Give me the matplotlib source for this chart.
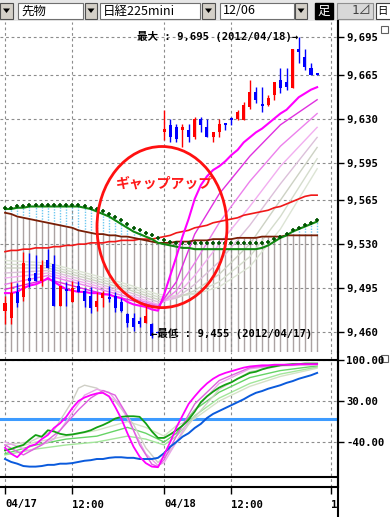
import matplotlib.pyplot as plt
from matplotlib.patches import Rectangle, Ellipse, Polygon

plt.rcParams['font.family'] = ['DejaVu Sans Mono', 'Noto Sans CJK JP']

# axes labels
price_ticks = [9695, 9665, 9630, 9595, 9565, 9530, 9495, 9460]
osc_ticks = [100, 30, -40]
time_pos = [0, 11, 26, 37, 53.3]
time_labels = ['04/17', '12:00', '04/18', '12:00', '1']

# candles, 04/17 then 04/18
opens = [9477, 9471, 9492, 9488, 9503, 9507, 9501, 9517, 9514, 9481, 9494, 9484, 9497,
         9493, 9489, 9480, 9487, 9488, 9489, 9484, 9474, 9471, 9469, 9467, 9466, 9460,
         9619, 9625, 9623, 9621, 9621, 9615, 9630, 9623, 9615, 9619, 9626, 9630, 9630,
         9629, 9639, 9651, 9641, 9641, 9649, 9661, 9659, 9654, 9685, 9679, 9670, 9666]
closes = [9483, 9491, 9483, 9515, 9501, 9501, 9513, 9511, 9481, 9497, 9493, 9495, 9492,
          9485, 9479, 9485, 9491, 9486, 9479, 9477, 9467, 9464, 9466, 9473, 9457, 9459,
          9622, 9615, 9614, 9623, 9615, 9630, 9625, 9615, 9619, 9626, 9625, 9629, 9635,
          9641, 9651, 9645, 9640, 9646, 9659, 9654, 9655, 9685, 9683, 9671, 9665, 9665]
highs = [9489, 9500, 9499, 9524, 9523, 9521, 9517, 9526, 9521, 9497, 9500, 9501, 9501,
         9495, 9496, 9492, 9493, 9497, 9492, 9487, 9475, 9475, 9472, 9481, 9467, 9461,
         9637, 9630, 9626, 9626, 9626, 9631, 9631, 9630, 9619, 9630, 9626, 9631, 9637,
         9643, 9661, 9655, 9655, 9649, 9659, 9670, 9670, 9685, 9695, 9685, 9674, 9666]
lows = [9466, 9466, 9480, 9485, 9496, 9501, 9497, 9511, 9481, 9481, 9481, 9484, 9492,
        9480, 9475, 9477, 9480, 9484, 9476, 9476, 9464, 9461, 9464, 9467, 9455, 9459,
        9613, 9611, 9611, 9607, 9611, 9614, 9619, 9615, 9611, 9615, 9621, 9625, 9629,
        9629, 9638, 9642, 9635, 9640, 9645, 9650, 9653, 9654, 9674, 9669, 9665, 9665]

ma_fast = [9491, 9491, 9492, 9495, 9497, 9498, 9500, 9503, 9500, 9497, 9494, 9493, 9492,
           9492, 9491, 9491, 9490, 9490, 9488, 9487, 9484, 9482, 9481, 9480, 9478, 9477,
           9490, 9505, 9520, 9536, 9550, 9566, 9577, 9584, 9589, 9592, 9596, 9601, 9605,
           9611, 9615, 9619, 9622, 9626, 9630, 9634, 9637, 9642, 9647, 9650, 9653, 9655]
ma_long = [9524, 9525, 9525, 9526, 9526, 9527, 9527, 9527, 9528, 9528, 9529, 9529, 9530,
           9530, 9531, 9531, 9531, 9532, 9532, 9533, 9533, 9533, 9534, 9534, 9534, 9535,
           9536, 9537, 9539, 9540, 9541, 9543, 9544, 9545, 9547, 9548, 9549, 9550, 9551,
           9553, 9554, 9555, 9556, 9557, 9559, 9560, 9562, 9564, 9566, 9568, 9569, 9569]
base_line = [9555, 9554, 9552, 9551, 9550, 9549, 9548, 9547, 9546, 9545, 9544, 9543, 9541,
             9540, 9539, 9538, 9538, 9537, 9537, 9536, 9536, 9535, 9534, 9533, 9532, 9531,
             9531, 9531, 9532, 9532, 9532, 9533, 9533, 9533, 9534, 9534, 9534, 9534, 9535,
             9535, 9535, 9535, 9536, 9536, 9536, 9536, 9537, 9537, 9537, 9537, 9537, 9537]
span_line = [9558, 9558, 9559, 9559, 9560, 9560, 9560, 9560, 9560, 9560, 9560, 9560, 9560,
             9559, 9558, 9556, 9554, 9552, 9549, 9546, 9543, 9540, 9538, 9536, 9534, 9531,
             9530, 9529, 9528, 9527, 9527, 9526, 9526, 9526, 9526, 9526, 9526, 9526, 9526,
             9526, 9526, 9526, 9527, 9529, 9532, 9535, 9537, 9540, 9542, 9544, 9546, 9548]
span_dots = [9559, 9559, 9560, 9560, 9561, 9561, 9561, 9561, 9561, 9561, 9561, 9561, 9561,
             9560, 9559, 9558, 9556, 9554, 9552, 9549, 9546, 9543, 9541, 9539, 9537, 9535,
             9533, 9532, 9531, 9531, 9531, 9531, 9531, 9531, 9531, 9531, 9531, 9531, 9531,
             9531, 9531, 9531, 9531, 9532, 9534, 9536, 9538, 9541, 9543, 9545, 9547, 9549]

ribbon_idx = [0, 7, 14, 20, 25, 28, 31, 35, 40, 45, 51]
rib1 = [9494, 9502, 9493, 9486, 9480, 9500, 9538, 9570, 9600, 9625, 9645]
rib2 = [9498, 9505, 9496, 9488, 9481, 9493, 9515, 9547, 9580, 9608, 9634]
rib3 = [9503, 9507, 9498, 9490, 9482, 9489, 9505, 9530, 9560, 9592, 9623]
rib4 = [9507, 9509, 9500, 9492, 9484, 9487, 9498, 9516, 9545, 9578, 9615]
rib5 = [9511, 9511, 9502, 9494, 9486, 9487, 9493, 9506, 9530, 9565, 9607]
rib6 = [9514, 9513, 9504, 9496, 9488, 9488, 9491, 9500, 9520, 9552, 9598]
rib7 = [9517, 9515, 9506, 9498, 9490, 9489, 9490, 9496, 9512, 9542, 9590]

# oscillator panel
osc_blue = [-69, -74, -77, -81, -82, -82, -81, -79, -79, -77, -77, -76, -74, -72, -71, -69,
            -69, -67, -66, -66, -67, -67, -69, -69, -69, -67, -59, -48, -40, -31, -25, -16,
            -9, 1, 8, 13, 18, 23, 28, 33, 39, 44, 47, 51, 54, 57, 61, 64, 68, 71, 74, 78]
osc_green = [-54, -52, -48, -45, -36, -28, -31, -20, -22, -26, -28, -27, -25, -23, -20, -15,
             -11, -6, 0, 3, 4, 4, 3, -8, -22, -33, -33, -27, -20, -12, -2, 12, 28, 38, 46,
             53, 58, 62, 68, 73, 78, 80, 84, 87, 89, 91, 92, 93, 93, 94, 94, 94]
osc_mag = [-50, -60, -66, -55, -47, -44, -35, -28, -16, -8, 3, 18, 30, 36, 40, 43, 44, 38,
           20, 0, -25, -48, -65, -76, -82, -83, -62, -40, -15, 5, 25, 38, 50, 60, 68, 74,
           78, 81, 84, 87, 89, 90, 91, 91, 92, 92, 92, 92, 93, 93, 93, 93]
o_idx1 = [0, 3, 6, 9, 12, 14, 16, 18, 20, 22, 24, 25, 26, 28, 31, 35, 40, 45, 51]
o_pink1 = [-45, -62, -45, -20, 15, 35, 48, 40, 5, -45, -78, -82, -70, -30, 25, 65, 87, 92, 93]
o_idx2 = [0, 4, 8, 11, 13, 15, 17, 19, 21, 23, 25, 26, 28, 31, 35, 40, 45, 51]
o_pink2 = [-40, -55, -35, 10, 40, 50, 45, 20, -20, -60, -80, -75, -40, 15, 60, 85, 91, 92]
o_idx3 = [0, 4, 8, 11, 12, 13, 15, 18, 21, 23, 25, 27, 30, 35, 40, 45, 51]
o_gray = [-45, -40, -20, 30, 52, 57, 52, 30, -10, -50, -75, -55, -10, 50, 80, 90, 92]
o_idx4 = [0, 5, 10, 15, 20, 23, 26, 28, 31, 35, 40, 45, 51]
o_lg1 = [-60, -45, -35, -30, -15, -25, -40, -25, 15, 45, 70, 82, 90]
o_lg2 = [-62, -52, -45, -40, -30, -35, -45, -30, 5, 35, 60, 76, 88]
o_lg3 = [-55, -40, -30, -20, -5, -15, -30, -12, 0, 30, 55, 72, 86]

W, H = 390, 517


def frac(x0, y0, x1, y1):
    return [x0 / W, 1 - y1 / H, (x1 - x0) / W, (y1 - y0) / H]


fig = plt.figure(figsize=(3.9, 5.17), dpi=100, facecolor='white')
base = fig.add_axes([0, 0, 1, 1])
base.set_xlim(0, W)
base.set_ylim(H, 0)
base.axis('off')

# toolbar
base.add_patch(Rectangle((0, 0), W, 21, fc='#E6E6E6', ec='none'))


def button(x, w):
    base.add_patch(Rectangle((x, 2.5), w, 16, fc='#D4D0C8', ec='#505050', lw=0.8))
    cx = x + w / 2
    base.add_patch(Polygon([(cx - 3.5, 8.5), (cx + 3.5, 8.5), (cx, 13)], fc='black', ec='none'))


def field(x, w, txt):
    base.add_patch(Rectangle((x, 2.5), w, 16, fc='white', ec='#707070', lw=0.8))
    base.text(x + 3, 11, txt, fontsize=9, va='center', ha='left',
              family=['Noto Sans CJK JP'], color='black')


button(0, 13)
field(18, 65, '先物')
button(85, 12)
field(100, 100, '日経225mini')
button(202, 13)
field(220, 74, '12/06')
button(295, 12)
base.add_patch(Rectangle((315, 2.5), 18, 16, fc='black', ec='black'))
base.text(324, 11, '足', color='white', fontsize=9, ha='center', va='center',
          family=['Noto Sans CJK JP'])
base.add_patch(Rectangle((337, 2.5), 36, 16, fc='#D8D8D8', ec='#909090', lw=0.8))
base.text(362, 11, '1⊿', fontsize=9, ha='center', va='center', color='#404040')
base.add_patch(Rectangle((376, 2.5), 16, 16, fc='white', ec='#404040', lw=0.8))
base.text(377.5, 11, '日', fontsize=7.5, ha='left', va='center', family=['Noto Sans CJK JP'])
base.add_patch(Rectangle((381, 26), 7, 7, fc='white', ec='#606060', lw=0.8))
base.add_patch(Rectangle((381, 355), 7, 7, fc='white', ec='#606060', lw=0.8))
base.plot([338, 338], [21, H], color='black', lw=1.5)

ax = fig.add_axes(frac(0, 22, 338, 352))
osc = fig.add_axes(frac(0, 352, 338, 487))
for a in (ax, osc):
    a.patch.set_visible(False)
    a.set_xlim(-0.817, 54.41)
    for s in ('left', 'top'):
        a.spines[s].set_visible(False)
    a.spines['right'].set_linewidth(1.5)
    a.yaxis.tick_right()
    a.set_xticks(time_pos)
    a.grid(True, ls=(0, (2.5, 2.5)), color='#8C8C8C', lw=0.8, zorder=0)
    a.tick_params(axis='y', direction='out', length=4, width=1, pad=2,
                  labelsize=7.7)
ax.spines['bottom'].set_visible(False)
osc.spines['bottom'].set_linewidth(1.5)

ylo, yhi = 9444.1, 9706.9
ax.set_ylim(ylo, yhi)
ax.set_yticks(price_ticks)
ax.set_yticklabels([f'{v:,}' for v in price_ticks], fontweight='bold')
ax.tick_params(axis='x', length=0, labelbottom=False)

n = len(opens)
idx = list(range(n))

# cloud-like verticals
ax.vlines(idx, ylo, base_line, colors='#ABA3A3', lw=1, zorder=1)
up = [i for i in idx if span_dots[i] > base_line[i]]
ax.vlines(up, [base_line[i] for i in up], [span_dots[i] for i in up],
          colors='#6EC8F0', linestyles=(0, (1, 1)), lw=1, zorder=1)

rib_cols = ['#E030E0', '#EC80EC', '#F2AEF0', '#DCC0DA', '#CDD2C4', '#D4DCCC', '#DCE4D4']
for vals, c in zip([rib7, rib6, rib5, rib4, rib3, rib2, rib1], rib_cols[::-1]):
    ax.plot(ribbon_idx, vals, color=c, lw=1, zorder=2)
ax.plot(idx, ma_long, color='#F01818', lw=1.2, zorder=3)
ax.plot(idx, base_line, color='#7A1E05', lw=1.3, zorder=3)
ax.plot(idx, span_line, color='#118811', lw=1.5, zorder=3)
ax.plot(idx, span_dots, ls='none', marker='+', ms=3.2, mew=1.2, color='#005500', zorder=3)
ax.plot(idx, ma_fast, color='#FF00FF', lw=1.5, zorder=3)

# candles
for i in idx:
    o, c = opens[i], closes[i]
    col = '#FF0000' if c > o else '#0000FF'
    ax.vlines(i, lows[i], highs[i], colors=col, lw=1, zorder=4)
    ax.bar(i, max(abs(c - o), 1.2), bottom=min(o, c), width=0.5, color=col, zorder=4)

ax.text(47.9, 9695, '最大 : 9,695 (2012/04/18)→', ha='right', va='center',
        fontsize=7.6, fontweight='bold', zorder=6)
ax.text(23.9, 9459, '←最低 : 9,455 (2012/04/17)', ha='left', va='center',
        fontsize=7.6, fontweight='bold', zorder=6)
ax.add_patch(Ellipse((25.65, 9543.6), 21.24, 128.3, fill=False, ec='#FF1010', lw=2,
                     zorder=6))
ax.text(26.06, 9578, 'ギャップアップ', ha='center', va='center', fontsize=10,
        fontweight='bold', color='#FF1A1A', family=['Noto Sans CJK JP'], zorder=6)

# oscillator
osc.set_ylim(-116.8, 113.7)
osc.set_yticks(osc_ticks)
osc.set_yticklabels([f'{v:.2f}' for v in osc_ticks], fontweight='bold')
osc.set_xticklabels(time_labels, fontweight='bold')
for lab in osc.get_xticklabels():
    lab.set_ha('left')
osc.tick_params(axis='x', direction='out', length=5, width=1, pad=4, labelsize=7.7)
osc.axhline(100, color='black', lw=1.5, zorder=2)
osc.axhline(-100, color='black', lw=1.5, zorder=2)
osc.axhline(0, color='#3D9BFF', lw=2.2, zorder=2)
osc.plot(o_idx4, o_lg3, color='#D4E2C6', lw=1, zorder=3)
osc.plot(o_idx4, o_lg2, color='#A2E69A', lw=1, zorder=3)
osc.plot(o_idx4, o_lg1, color='#66D466', lw=1, zorder=3)
osc.plot(o_idx3, o_gray, color='#CFCFC6', lw=1, zorder=3)
osc.plot(o_idx2, o_pink2, color='#E8A6E8', lw=1, zorder=3)
osc.plot(o_idx1, o_pink1, color='#E060E0', lw=1, zorder=3)
osc.plot(idx, osc_green, color='#13A013', lw=1.3, zorder=4)
osc.plot(idx, osc_blue, color='#0A5ADC', lw=1.4, zorder=4)
osc.plot(idx, osc_mag, color='#FF00FF', lw=1.3, zorder=4)

fig.savefig('out.png', dpi=100, facecolor='white')
